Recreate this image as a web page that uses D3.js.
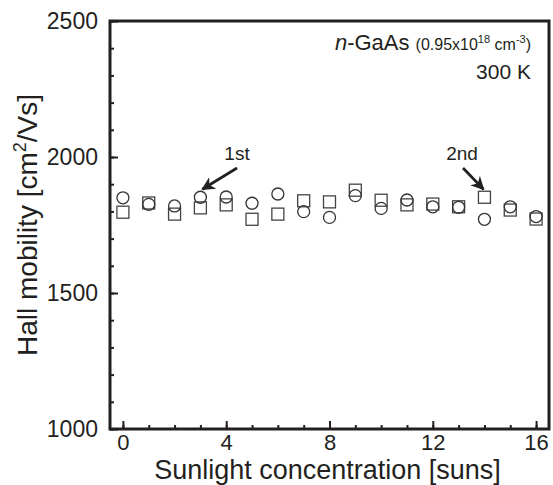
<!DOCTYPE html>
<html>
<head>
<meta charset="utf-8">
<script src="https://cdn.jsdelivr.net/npm/d3@7"></script>
<style>
  body { margin: 0; background: #fff; }
  svg { font-family: "Liberation Sans", Arial, sans-serif; }
</style>
</head>
<body>
<script>

// Sunlight concentration (suns)
var suns = [0, 1, 2, 3, 4, 5, 6, 7, 8, 9, 10, 11, 12, 13, 14, 15, 16];

// Hall mobility, 1st run (circles) and 2nd run (squares)
var firstRun = [1850, 1826, 1820, 1852, 1853, 1830, 1864, 1799, 1778,
  1858, 1811, 1842, 1817, 1815, 1771, 1817, 1781];
var secondRun = [1797, 1831, 1790, 1813, 1824, 1771, 1790, 1839, 1835,
  1878, 1841, 1824, 1827, 1817, 1852, 1805, 1772];

var xTicks = [0, 4, 8, 12, 16];
var yTicks = [1000, 1500, 2000, 2500];

var W = 553, H = 485;
var m = { left: 110, right: 4, top: 21, bottom: 56 };
var FONT = '"Liberation Sans", Arial, sans-serif';

var svg = d3.select('body').append('svg')
  .attr('width', W).attr('height', H);

var x = d3.scaleLinear().domain([-0.5, 16.5])
  .range([m.left, W - m.right]);
var y = d3.scaleLinear().domain([1000, 2500])
  .range([H - m.bottom, m.top]);

var ink = '#231f20';

// Minor ticks, drawn inward.
var xMinor = d3.range(0, 17, 1);
var yMinor = d3.range(1000, 2501, 100);

svg.append('g')
  .attr('transform', 'translate(0,' + (H - m.bottom) + ')')
  .call(d3.axisBottom(x).tickValues(xMinor).tickSize(-4).tickFormat(''))
  .call(function(g) { g.select('.domain').remove(); })
  .selectAll('line').attr('stroke', ink).attr('stroke-width', 2);

svg.append('g')
  .attr('transform', 'translate(' + m.left + ',0)')
  .call(d3.axisLeft(y).tickValues(yMinor).tickSize(-4).tickFormat(''))
  .call(function(g) { g.select('.domain').remove(); })
  .selectAll('line').attr('stroke', ink).attr('stroke-width', 2);

// Major ticks with labels.
var xAxis = svg.append('g')
  .attr('transform', 'translate(0,' + (H - m.bottom) + ')')
  .call(d3.axisBottom(x).tickValues(xTicks).tickSize(-8).tickPadding(5)
    .tickFormat(d3.format('d')));
xAxis.select('.domain').remove();
xAxis.selectAll('line').attr('stroke', ink).attr('stroke-width', 2);
xAxis.selectAll('text').attr('font-size', 22).attr('fill', ink)
  .attr('font-family', FONT);

var yAxis = svg.append('g')
  .attr('transform', 'translate(' + m.left + ',0)')
  .call(d3.axisLeft(y).tickValues(yTicks).tickSize(-8).tickPadding(12)
    .tickFormat(d3.format('d')));
yAxis.select('.domain').remove();
yAxis.selectAll('line').attr('stroke', ink).attr('stroke-width', 2);
yAxis.selectAll('text').attr('font-size', 23).attr('fill', ink)
  .attr('font-family', FONT);

// Frame.
svg.append('rect')
  .attr('x', x(-0.5)).attr('y', y(2500))
  .attr('width', x(16.5) - x(-0.5)).attr('height', y(1000) - y(2500))
  .attr('fill', 'none').attr('stroke', ink).attr('stroke-width', 3);

// Data markers.
var r = 6;
svg.append('g').selectAll('rect')
  .data(suns)
  .enter().append('rect')
  .attr('x', function(d, i) { return x(d) - r; })
  .attr('y', function(d, i) { return y(secondRun[i]) - r; })
  .attr('width', 2 * r).attr('height', 2 * r)
  .attr('fill', 'none').attr('stroke', '#444').attr('stroke-width', 1.3);

svg.append('g').selectAll('circle')
  .data(suns)
  .enter().append('circle')
  .attr('cx', function(d) { return x(d); })
  .attr('cy', function(d, i) { return y(firstRun[i]); })
  .attr('r', r)
  .attr('fill', 'none').attr('stroke', '#333').attr('stroke-width', 1.3);

// Arrow annotations.
svg.append('defs').append('marker')
  .attr('id', 'head')
  .attr('viewBox', '0 0 10 10')
  .attr('refX', 9).attr('refY', 5)
  .attr('markerWidth', 5).attr('markerHeight', 5)
  .attr('orient', 'auto')
  .append('path').attr('d', 'M0,0L10,5L0,10L3,5Z').attr('fill', ink);

function arrow(label, lx, x1, y1, idx, val) {
  svg.append('text')
    .attr('x', lx).attr('y', y1 - 8)
    .attr('text-anchor', 'middle')
    .attr('font-size', 19).attr('fill', ink)
    .text(label);
  svg.append('line')
    .attr('x1', x1).attr('y1', y1)
    .attr('x2', x(idx) + (x1 < x(idx) ? -1 : 2))
    .attr('y2', y(val) - r - 2)
    .attr('stroke', ink).attr('stroke-width', 2.7)
    .attr('marker-end', 'url(#head)');
}
arrow('1st', 237, 237, 168, suns[3], firstRun[3]);
arrow('2nd', 462, 463, 168, suns[14], secondRun[14]);

// Sample label.
var lbl = svg.append('text')
  .attr('x', W - 22).attr('y', 50)
  .attr('text-anchor', 'end')
  .attr('font-size', 22).attr('fill', ink);
lbl.append('tspan').attr('font-style', 'italic').text('n');
lbl.append('tspan').text('-GaAs ');
lbl.append('tspan').attr('font-size', 16).text('(0.95x10');
lbl.append('tspan').attr('font-size', 11).attr('dy', -7).text('18');
lbl.append('tspan').attr('font-size', 16).attr('dy', 7).text(' cm');
lbl.append('tspan').attr('font-size', 11).attr('dy', -7).text('-3');
lbl.append('tspan').attr('font-size', 16).attr('dy', 7).text(')');

svg.append('text')
  .attr('x', W - 22).attr('y', 79)
  .attr('text-anchor', 'end')
  .attr('font-size', 21).attr('fill', ink)
  .text('300 K');

// Axis titles.
svg.append('text')
  .attr('x', (x(-0.5) + x(16.5)) / 2 - 2).attr('y', H - 6)
  .attr('text-anchor', 'middle')
  .attr('font-size', 27).attr('fill', ink)
  .text('Sunlight concentration [suns]');

var yt = svg.append('text')
  .attr('transform', 'translate(37,' + ((y(1000) + y(2500)) / 2) + ') rotate(-90)')
  .attr('text-anchor', 'middle')
  .attr('font-size', 28).attr('fill', ink);
yt.append('tspan').text('Hall mobility [cm');
yt.append('tspan').attr('font-size', 18).attr('dy', -11).text('2');
yt.append('tspan').attr('dy', 11).text('/Vs]');

</script>
</body>
</html>
